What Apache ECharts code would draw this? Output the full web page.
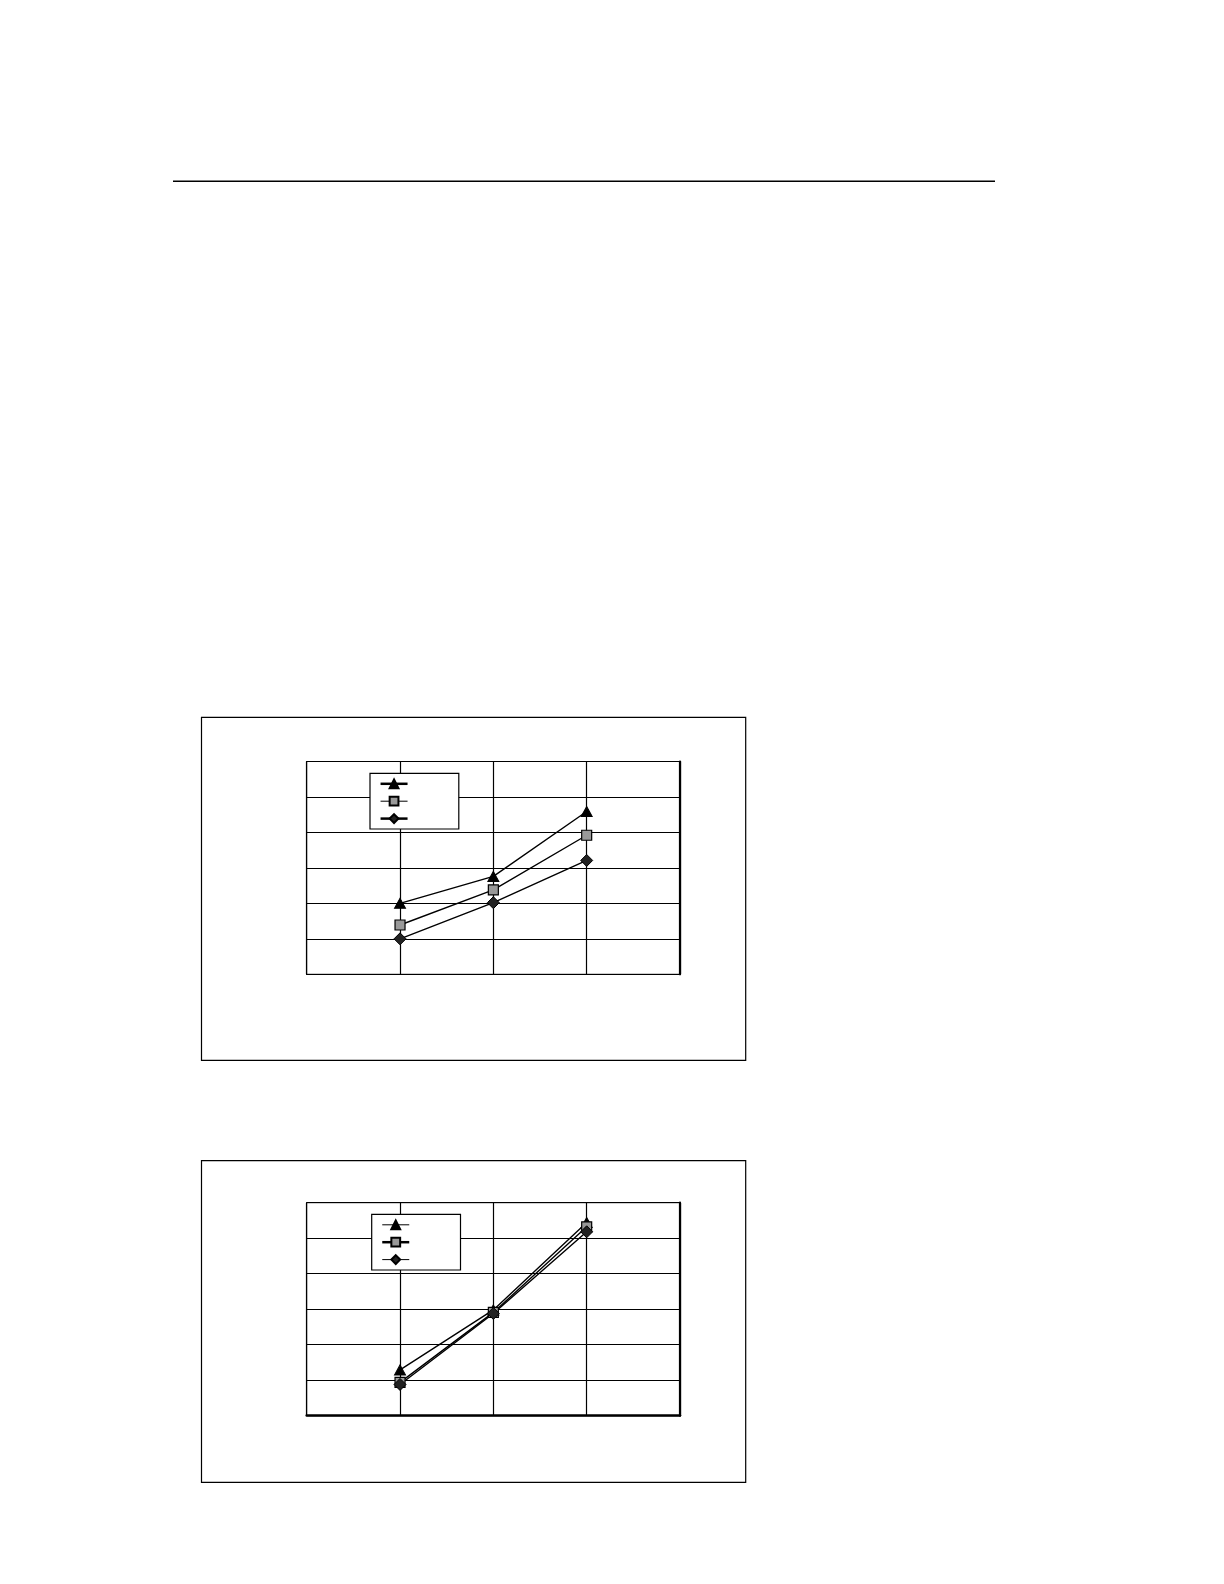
<!DOCTYPE html>
<html>
<head>
<meta charset="utf-8">
<script src="https://cdn.jsdelivr.net/npm/echarts@6/dist/echarts.min.js"></script>
<style>
html,body{margin:0;padding:0;background:#fff;}
#c{width:1224px;height:1584px;}
</style>
</head>
<body>
<div id="c"></div>
<script>
// Category positions (x) shared by both charts
var xPositions = [1, 2, 3];
var xTicks = [0, 1, 2, 3, 4];
var yTicks = [0, 1, 2, 3, 4, 5, 6];

// Chart 1 (upper)
var chart1Triangle = [2.0, 2.76, 4.59];
var chart1Square   = [1.39, 2.38, 3.92];
var chart1Diamond  = [1.0, 2.02, 3.21];

// Chart 2 (lower)
var chart2Triangle = [1.29, 2.98, 5.44];
var chart2Square   = [0.94, 2.91, 5.32];
var chart2Diamond  = [0.88, 2.88, 5.18];

function pairs(vals){ return vals.map(function(v,i){ return [xPositions[i], v]; }); }

var chart = echarts.init(document.getElementById('c'), null, {renderer:'canvas'});

var grids = [
  {left:306.7, top:761.5, width:373.3, height:212.8, show:true, borderColor:'#000', borderWidth:1, backgroundColor:'#fff'},
  {left:306.7, top:1202.7, width:373.3, height:213, show:true, borderColor:'#000', borderWidth:1, backgroundColor:'#fff'}
];

function xAxisFor(gi, bottomWidth){
  return {type:'value', gridIndex:gi, min:xTicks[0], max:xTicks[xTicks.length-1], interval:1,
    axisLine:{show:true, onZero:false, lineStyle:{color:'#000', width:bottomWidth}},
    axisTick:{show:false}, axisLabel:{show:false},
    splitLine:{show:true, lineStyle:{color:'#000', width:1.2}}};
}
function yAxisFor(gi){
  return {type:'value', gridIndex:gi, min:yTicks[0], max:yTicks[yTicks.length-1], interval:1,
    axisLine:{show:true, lineStyle:{color:'#000', width:1}},
    axisTick:{show:false}, axisLabel:{show:false},
    splitLine:{show:true, lineStyle:{color:'#000', width:1.2}}};
}
function yRightFor(gi){
  return {type:'value', gridIndex:gi, position:'right', min:yTicks[0], max:yTicks[yTicks.length-1], interval:1,
    axisLine:{show:true, lineStyle:{color:'#000', width:2.2}},
    axisTick:{show:false}, axisLabel:{show:false}, splitLine:{show:false}};
}

var triStyle = {symbol:'triangle', symbolSize:[11,10], itemStyle:{color:'#000', borderColor:'#000', borderWidth:1}};
var sqStyle  = {symbol:'rect', symbolSize:10, itemStyle:{color:'#999', borderColor:'#000', borderWidth:1.2}};
var diaStyle = {symbol:'diamond', symbolSize:[12,12], itemStyle:{color:'#222', borderColor:'#000', borderWidth:1}};

function mkSeries(name, vals, st, gi){
  return {
    name:name, type:'line', xAxisIndex:gi, yAxisIndex:gi*2,
    data:pairs(vals), symbol:st.symbol, symbolSize:st.symbolSize, showSymbol:true,
    itemStyle:st.itemStyle, lineStyle:{color:'#000', width:1.4}, z:5, animation:false
  };
}

var series = [
  mkSeries('a1', chart1Triangle, triStyle, 0),
  mkSeries('b1', chart1Square, sqStyle, 0),
  mkSeries('c1', chart1Diamond, diaStyle, 0),
  mkSeries('a2', chart2Triangle, triStyle, 1),
  mkSeries('b2', chart2Square, sqStyle, 1),
  mkSeries('c2', chart2Diamond, diaStyle, 1)
];

function legendFor(names, widths, left, top){
  return {
    left:left, top:top, orient:'vertical', selectedMode:false,
    backgroundColor:'#fff', borderColor:'#000', borderWidth:1.2, borderRadius:0,
    padding:[5, 50, 5, 9.3], itemGap:6.5, itemWidth:27, itemHeight:11,
    formatter:function(){ return ''; },
    textStyle:{fontSize:1},
    data:names.map(function(n,i){ return {name:n, lineStyle:{color:'#000', width:widths[i]}}; }),
    z:10
  };
}

var option = {
  backgroundColor:'#fff',
  animation:false,
  grid:grids,
  xAxis:[xAxisFor(0,1), xAxisFor(1,2.5)],
  yAxis:[yAxisFor(0), yRightFor(0), yAxisFor(1), yRightFor(1)],
  legend:[
    legendFor(['a1','b1','c1'], [2.5, 1, 2.5], 370, 773.3),
    legendFor(['a2','b2','c2'], [1, 2.5, 1], 371.7, 1214.3)
  ],
  series:series,
  graphic:[
    {type:'line', shape:{x1:173, y1:181.3, x2:995, y2:181.3}, style:{stroke:'#000', lineWidth:1.5}, silent:true},
    {type:'rect', shape:{x:201.5, y:717.3, width:544.2, height:343}, style:{fill:null, stroke:'#000', lineWidth:1.2}, z:-10, silent:true},
    {type:'rect', shape:{x:201.5, y:1160.7, width:544.2, height:321.6}, style:{fill:null, stroke:'#000', lineWidth:1.2}, z:-10, silent:true}
  ]
};
chart.setOption(option);
</script>
</body>
</html>
